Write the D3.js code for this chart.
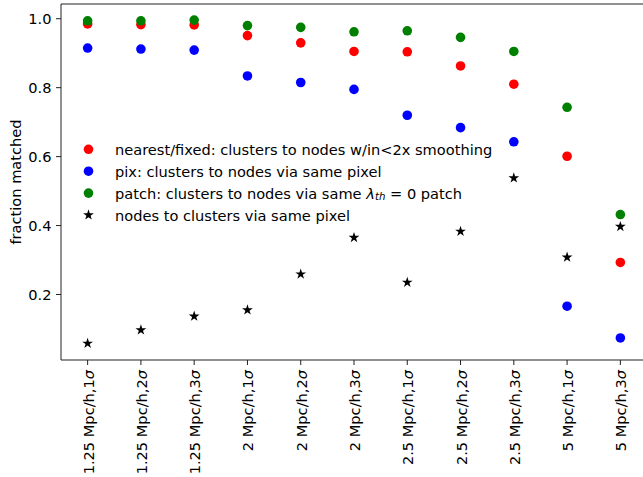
<!DOCTYPE html>
<html>
<head>
<meta charset="utf-8">
<script src="https://cdn.jsdelivr.net/npm/d3@7"></script>
<style>
  html, body { margin: 0; padding: 0; background: #fff; }
  svg { display: block; font-family: "DejaVu Sans", sans-serif; }
</style>
</head>
<body>
<svg id="chart" width="643" height="477"></svg>
<script>
// Smoothing scale / threshold combinations
const categories = [
  ["1.25", "1"], ["1.25", "2"], ["1.25", "3"],
  ["2", "1"], ["2", "2"], ["2", "3"],
  ["2.5", "1"], ["2.5", "2"], ["2.5", "3"],
  ["5", "1"], ["5", "3"]
];
const nearestFixed = [0.985, 0.983, 0.982, 0.951, 0.930, 0.905, 0.904, 0.863, 0.810, 0.601, 0.293];
const pixMatch     = [0.915, 0.912, 0.909, 0.834, 0.815, 0.795, 0.720, 0.684, 0.643, 0.166, 0.074];
const patchMatch   = [0.994, 0.994, 0.996, 0.980, 0.975, 0.962, 0.965, 0.946, 0.905, 0.743, 0.432];
const nodesToClust = [0.058, 0.097, 0.137, 0.155, 0.259, 0.365, 0.235, 0.383, 0.538, 0.308, 0.397];
const yTicks = [0.2, 0.4, 0.6, 0.8, 1.0];

const svg = d3.select("#chart");
const plotLeft = 61, plotRight = 647, plotTop = 4, plotBottom = 360;
const fontSize = 14.6;

const keys = categories.map((c, i) => i);
const x = d3.scalePoint().domain(keys).range([plotLeft, plotRight]).padding(0.5);
const y = d3.scaleLinear().domain([0.010, 1.0427]).range([plotBottom, plotTop]);

// Points
const series = [
  { values: nearestFixed, color: "#ff0000", type: "circle" },
  { values: pixMatch,     color: "#0000ff", type: "circle" },
  { values: patchMatch,   color: "#008000", type: "circle" },
  { values: nodesToClust, color: "#000000", type: "star" }
];
const star = d3.symbol().type(d3.symbolStar).size(36);

series.forEach(s => {
  const g = svg.append("g");
  if (s.type === "circle") {
    g.selectAll("circle").data(s.values).join("circle")
      .attr("cx", (d, i) => x(i))
      .attr("cy", d => y(d))
      .attr("r", 4.8)
      .attr("fill", s.color);
  } else {
    g.selectAll("path").data(s.values).join("path")
      .attr("transform", (d, i) => `translate(${x(i)},${y(d)})`)
      .attr("d", star)
      .attr("fill", s.color);
  }
});

// Spines
svg.append("path")
  .attr("d", `M${plotLeft},${plotTop}H${plotRight}M${plotLeft},${plotTop}V${plotBottom}H${plotRight}`)
  .attr("fill", "none").attr("stroke", "#222").attr("stroke-width", 1);

// Y axis
const yAxis = svg.append("g");
yTicks.forEach(t => {
  const yy = y(t);
  yAxis.append("line").attr("x1", plotLeft - 5).attr("x2", plotLeft).attr("y1", yy).attr("y2", yy)
    .attr("stroke", "#222").attr("stroke-width", 1);
  yAxis.append("text").attr("x", plotLeft - 9.5).attr("y", yy)
    .attr("text-anchor", "end").attr("dominant-baseline", "central")
    .attr("font-size", fontSize).attr("fill", "#000")
    .text(t.toFixed(1));
});
svg.append("text")
  .attr("transform", `translate(15,${(plotTop + plotBottom) / 2}) rotate(-90)`)
  .attr("text-anchor", "middle").attr("dominant-baseline", "central")
  .attr("font-size", fontSize).text("fraction matched");

// X axis
const xAxis = svg.append("g");
categories.forEach((c, i) => {
  const xx = x(i);
  xAxis.append("line").attr("x1", xx).attr("x2", xx).attr("y1", plotBottom).attr("y2", plotBottom + 5)
    .attr("stroke", "#222").attr("stroke-width", 1);
  const t = xAxis.append("text")
    .attr("transform", `translate(${xx},${plotBottom + 10}) rotate(-90)`)
    .attr("text-anchor", "end").attr("dominant-baseline", "central")
    .attr("font-size", fontSize);
  t.append("tspan").text(`${c[0]} Mpc/h,${c[1]}`);
  t.append("tspan").attr("font-style", "italic").text("σ");
});

// Legend
const legendItems = [
  { color: "#ff0000", type: "circle", parts: [["nearest/fixed: clusters to nodes w/in<2x smoothing"]] },
  { color: "#0000ff", type: "circle", parts: [["pix: clusters to nodes via same pixel"]] },
  { color: "#008000", type: "circle", parts: [["patch: clusters to nodes via same "], ["λ", "i"], ["th", "sub"], [" = 0 patch", "up"]] },
  { color: "#000000", type: "star", parts: [["nodes to clusters via same pixel"]] }
];
const legend = svg.append("g");
legendItems.forEach((it, k) => {
  const ly = 149.3 + k * 21.9;
  if (it.type === "circle") {
    legend.append("circle").attr("cx", 88.5).attr("cy", ly).attr("r", 4.8).attr("fill", it.color);
  } else {
    legend.append("path").attr("transform", `translate(88.5,${ly})`).attr("d", star).attr("fill", it.color);
  }
  const t = legend.append("text").attr("x", 115).attr("y", ly)
    .attr("dominant-baseline", "central").attr("font-size", fontSize);
  it.parts.forEach(p => {
    const ts = t.append("tspan").text(p[0]);
    if (p[1] === "i") ts.attr("font-style", "italic");
    if (p[1] === "sub") ts.attr("font-style", "italic").attr("font-size", fontSize * 0.7).attr("dy", 3);
    if (p[1] === "up") ts.attr("dy", -3);
  });
});
</script>
</body>
</html>
